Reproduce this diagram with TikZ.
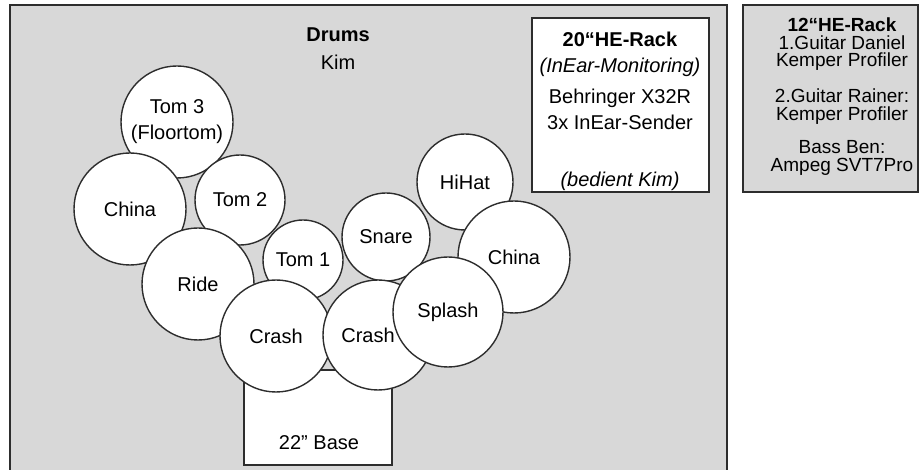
\documentclass[tikz,border=0pt]{standalone}
\usepackage{fontspec}
\setmainfont{Liberation Sans}
\usepackage{tikz}
\usetikzlibrary{positioning}
\definecolor{stageColor}{RGB}{216, 216, 216}
\definecolor{lineColor}{RGB}{45, 45, 45}

\begin{document}
\begin{tikzpicture}[
        x=1pt, y=-1pt,
        stage/.style={rectangle, draw=lineColor, fill=stageColor, line width=2pt, outer sep=0pt, inner sep=0pt},
        rack/.style={rectangle, draw=lineColor, fill=white, line width=1.6pt, outer sep=0pt, inner sep=0pt},
        drum/.style={circle, draw=lineColor, fill=white, line width=1.4pt, inner sep=0pt, align=center, font=\fontsize{20}{26}\selectfont},
        txt/.style={align=center, inner sep=0pt, font=\fontsize{20}{26}\selectfont},
        smalltxt/.style={align=center, inner sep=0pt, font=\fontsize{19}{17.5}\selectfont}
    ]
    \useasboundingbox (0,0) rectangle (919,470);

    % Stage and racks
    \node (stage) [stage, minimum width=717pt, minimum height=470pt, anchor=north west] at (10,5) {};
    \node (rackbig) [rack, minimum width=177pt, minimum height=174pt, anchor=north west] at (532,18) {};
    \node (racksmall) [stage, line width=1.6pt, minimum width=175pt, minimum height=187pt, anchor=north west] at (743,5) {};
    \node (base) [rack, minimum width=148pt, minimum height=95pt, anchor=south west] at (244,465) {};

    % Texts
    \node (drums) [txt, anchor=north, font=\fontsize{20}{28}\selectfont] at (338,28) {\textbf{Drums}\\Kim};
    \node (rackbigtext) [txt, anchor=north] at (620,32) {\textbf{20“HE-Rack}\\\textit{(InEar-Monitoring)}\\[5pt]Behringer X32R\\3x InEar-Sender\\[31pt]\textit{(bedient Kim)}};
    \node (racksmalltext) [smalltxt, anchor=north] at (842,18) {\textbf{12“HE-Rack}\\1.Guitar Daniel\\Kemper Profiler\\[17pt]2.Guitar Rainer:\\Kemper Profiler\\[16pt]Bass Ben:\\Ampeg SVT7Pro};
    \node (basetext) [txt] at (319,443) {22" Base};

    % Drums
    \node (tomthree) [drum, minimum size=112pt] at (177,122) {Tom 3\\(Floortom)};
    \node (chinaleft) [drum, minimum size=112pt] at (130,209) {China};
    \node (tomtwo) [drum, minimum size=90pt] at (240,200) {Tom 2};
    \node (ride) [drum, minimum size=112pt] at (198,284) {Ride};
    \node (tomone) [drum, minimum size=80pt] at (303,260) {Tom 1};
    \node (snare) [drum, minimum size=88pt] at (386,237) {Snare};
    \node (hihat) [drum, minimum size=96pt] at (465,182) {HiHat};
    \node (chinaright) [drum, minimum size=112pt] at (514,257) {China};
    \node (crashleft) [drum, minimum size=112pt] at (276,336) {Crash};
    \node (crashright) [drum, minimum size=110pt] at (378,335) {Crash\hspace*{20pt}};
    \node (splash) [drum, minimum size=110pt] at (448,312) {Splash};
\end{tikzpicture}
\end{document}
